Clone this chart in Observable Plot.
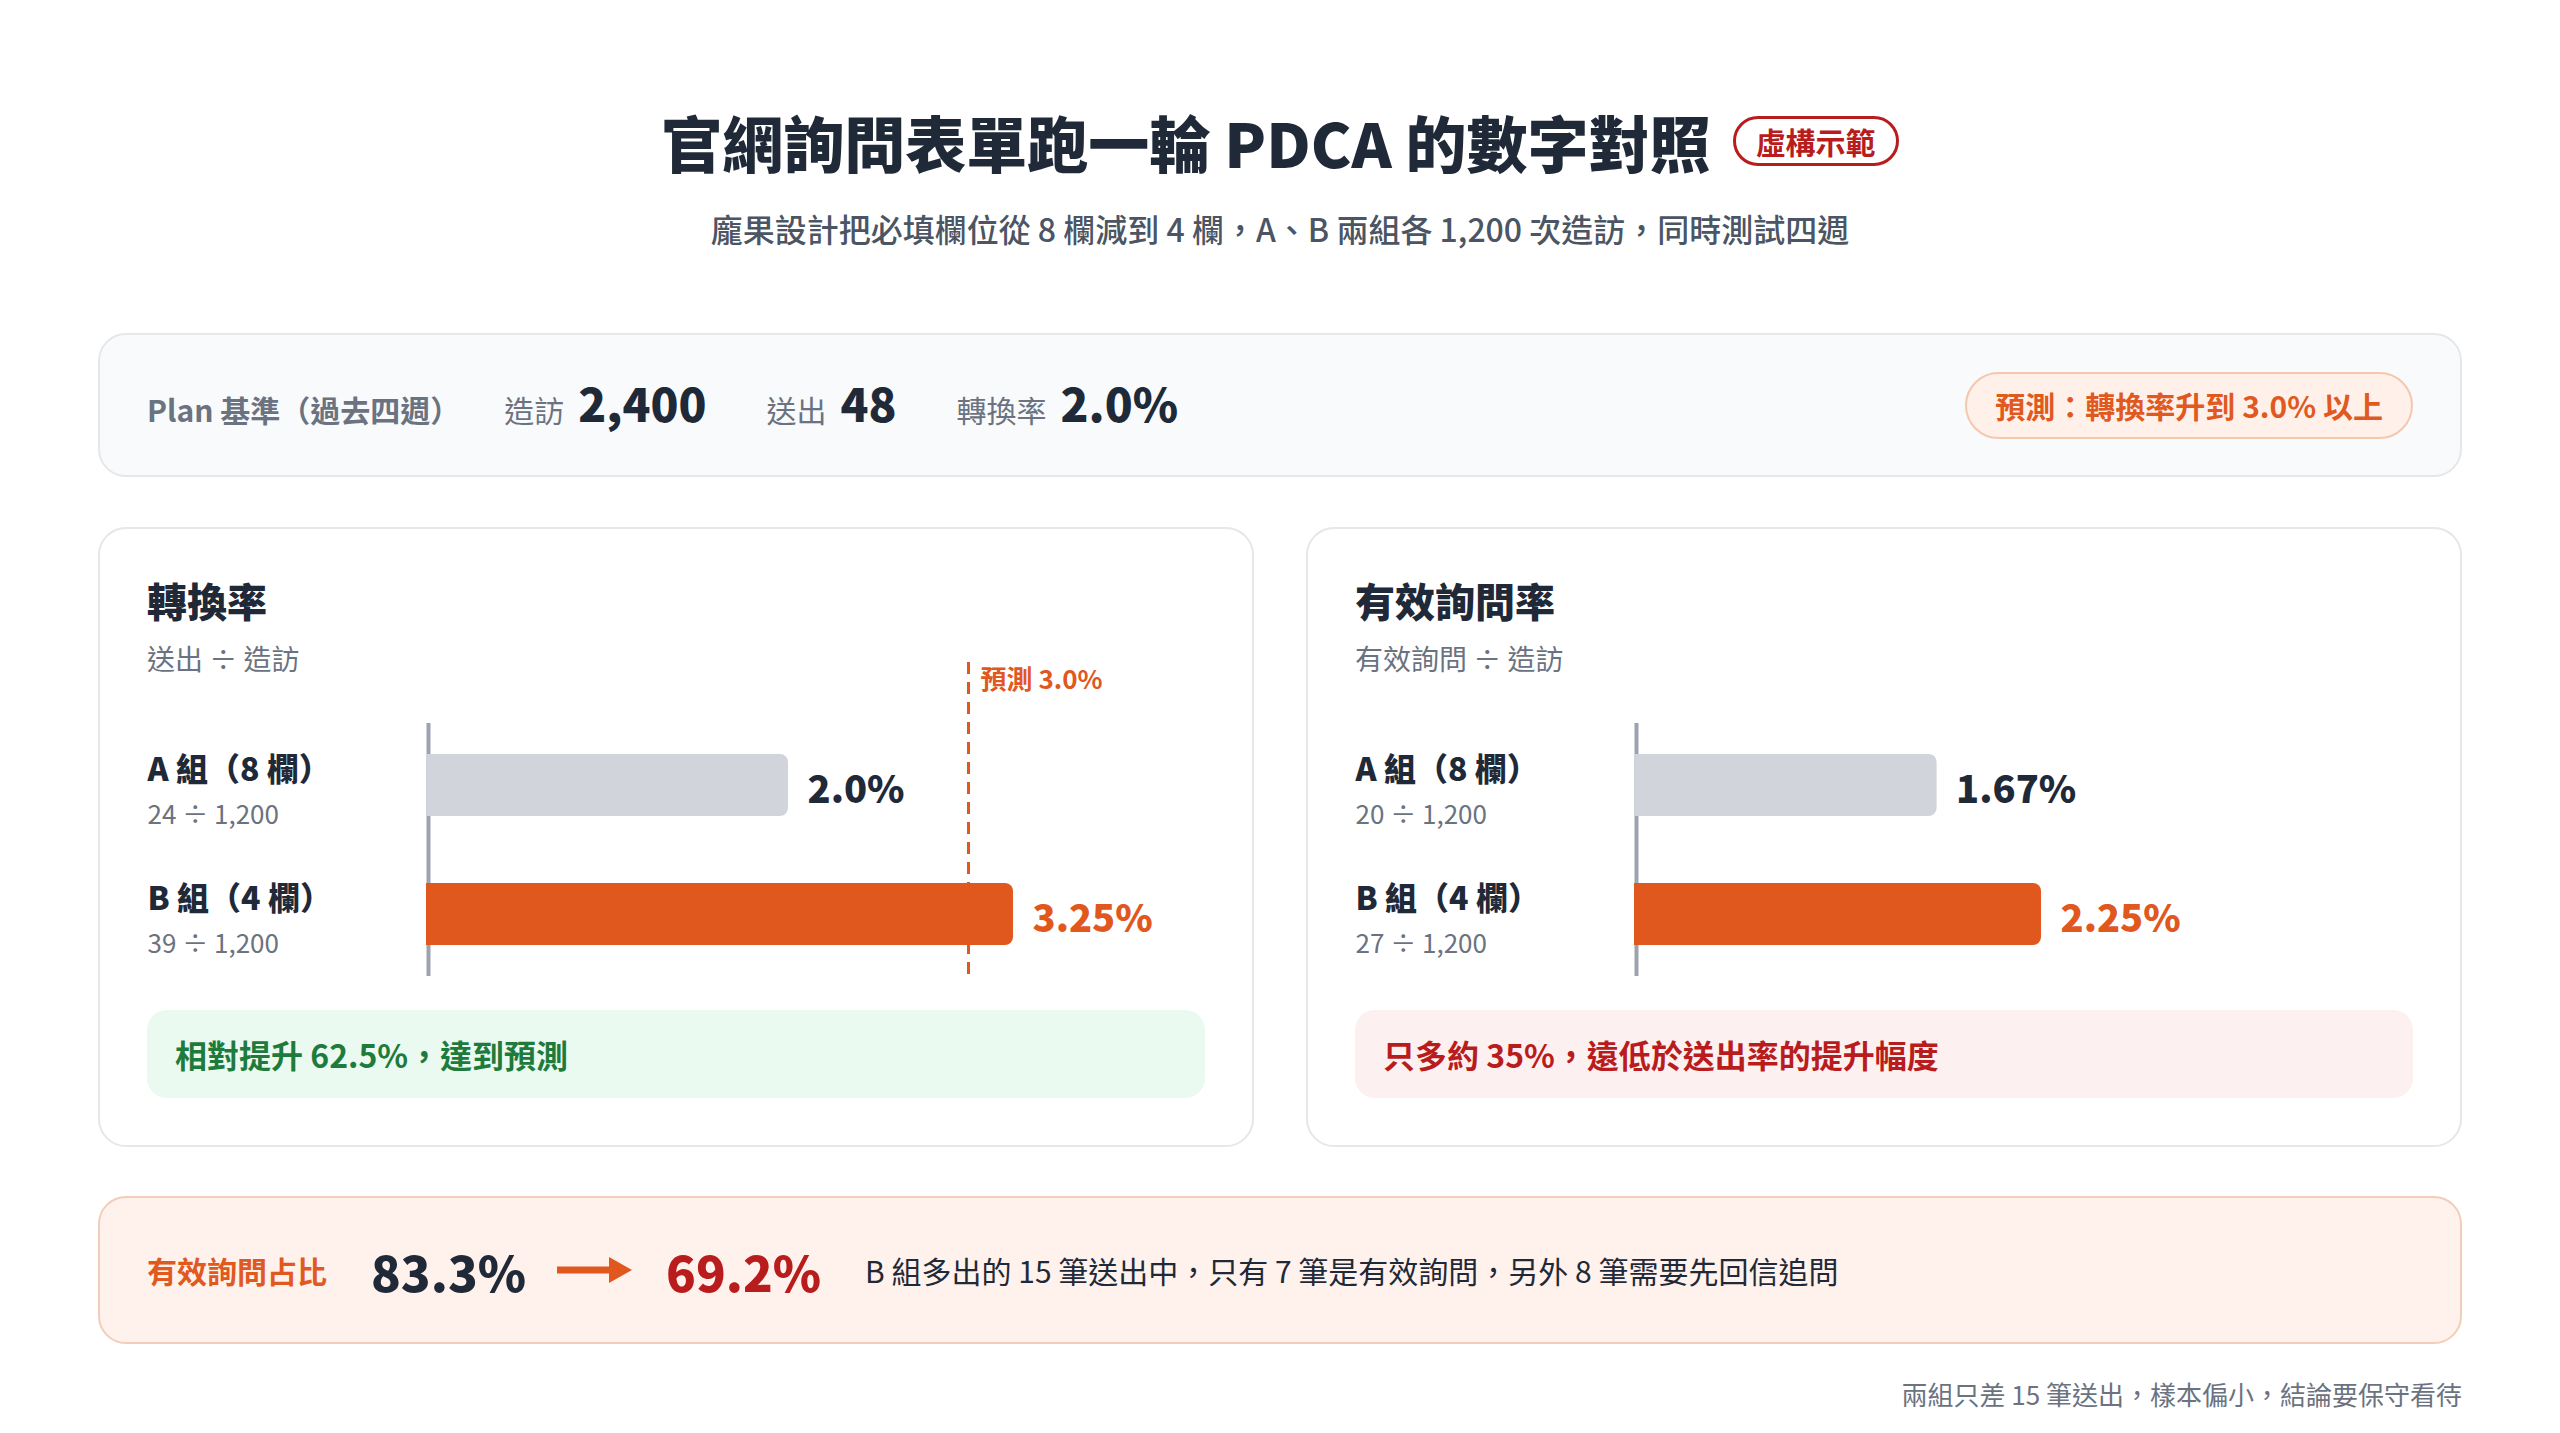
<!DOCTYPE html>
<html lang="zh-Hant">
<head>
<meta charset="utf-8">
<script src="https://cdn.jsdelivr.net/npm/d3@7"></script>
<script src="https://cdn.jsdelivr.net/npm/@observablehq/plot@0.6"></script>
<style>
  * { box-sizing: border-box; }
  body { margin: 0; width: 2560px; height: 1433px; background: #ffffff; position: relative; overflow: hidden;
         font-family: "Noto Sans CJK TC", "Noto Sans", sans-serif; color: #1f2937; }
  .abs { position: absolute; }
  #titleRow { left: 0; width: 2560px; top: 101px; height: 80px; display: flex; justify-content: center; align-items: center; }
  #title { font-size: 61px; font-weight: 900; line-height: 1; color: #1f2937; }
  #badge { margin-left: 22px; height: 50px; padding: 0 20px; border: 3px solid #b91c1c; border-radius: 25px;
           color: #b91c1c; font-size: 30px; font-weight: 700; display: flex; align-items: center; background: #fff; line-height: 1; }
  #subtitle { left: 0; width: 2560px; top: 208px; text-align: center; font-size: 32px; font-weight: 500; color: #4b5563; line-height: 40px; }
  #plan { left: 98px; top: 333px; width: 2364px; height: 144px; background: #f8fafc; border: 2px solid #e5e7eb; border-radius: 28px;
          display: flex; align-items: center; justify-content: space-between; padding: 0 47px; }
  #planLeft { display: flex; align-items: baseline; }
  .planTag { font-size: 30px; font-weight: 600; color: #6b7280; margin-right: 44px; }
  .kpi { display: flex; align-items: baseline; margin-right: 60px; }
  .kpi .k { font-size: 30px; color: #6b7280; margin-right: 14px; }
  .kpi .v { font-size: 46px; font-weight: 900; color: #1f2937; line-height: 1; }
  #pill { height: 67px; padding: 0 28px; border: 2px solid #f4c7ae; background: #fff1ea; border-radius: 34px;
          display: flex; align-items: center; font-size: 30px; font-weight: 700; color: #e0591f; }
  .panel { top: 527px; width: 1156px; height: 620px; background: #fff; border: 2px solid #e5e7eb; border-radius: 28px; }
  .ptitle { left: 47px; top: 51px; font-size: 40px; font-weight: 900; line-height: 1; color: #1f2937; }
  .psub { left: 47px; top: 115px; font-size: 28px; line-height: 1; color: #6b7280; }
  .chart { left: 47px; top: 111px; }
  .callout { left: 47px; top: 481px; width: 1058px; height: 88px; border-radius: 20px; display: flex; align-items: center;
             padding-left: 28px; font-size: 32px; font-weight: 700; }
  #bottom { left: 98px; top: 1196px; width: 2364px; height: 148px; background: #fff1eb; border: 2px solid #f2cdb9; border-radius: 28px;
            display: flex; align-items: center; padding-left: 47px; }
  #bottom .lab { font-size: 30px; font-weight: 700; color: #e0591f; margin-right: 44px; }
  #bottom .big { font-size: 49px; font-weight: 900; line-height: 1; }
  #bottom .desc { font-size: 30px; color: #1f2937; margin-left: 44px; }
  #footer { right: 98px; top: 1378px; font-size: 26px; color: #6b7280; line-height: 32px; }
</style>
</head>
<body>
<div id="titleRow" class="abs"><div id="title"></div><div id="badge"></div></div>
<div id="subtitle" class="abs"></div>
<div id="plan" class="abs"><div id="planLeft"></div><div id="pill"></div></div>
<div id="panelL" class="abs panel" style="left:98px"></div>
<div id="panelR" class="abs panel" style="left:1306px"></div>
<div id="bottom" class="abs"></div>
<div id="footer" class="abs"></div>
<script>
// ---------- data ----------
const titleText = "官網詢問表單跑一輪 PDCA 的數字對照";
const badgeText = "虛構示範";
const subtitleText = "龐果設計把必填欄位從 8 欄減到 4 欄，A、B 兩組各 1,200 次造訪，同時測試四週";
const planTag = "Plan 基準（過去四週）";
const planKeys = ["造訪", "送出", "轉換率"];
const planValues = ["2,400", "48", "2.0%"];
const forecastText = "預測：轉換率升到 3.0% 以上";

const groups = ["A 組（8 欄）", "B 組（4 欄）"];
const visits = [1200, 1200];
const submits = [24, 39];
const validInq = [20, 27];
const convRates = [2.0, 3.25];
const convLabels = ["2.0%", "3.25%"];
const validRates = [1.67, 2.25];
const validLabels = ["1.67%", "2.25%"];
const forecast = 3.0;

const panelTitles = ["轉換率", "有效詢問率"];
const panelSubs = ["送出 ÷ 造訪", "有效詢問 ÷ 造訪"];
const calloutTexts = ["相對提升 62.5%，達到預測", "只多約 35%，遠低於送出率的提升幅度"];

const shareLabel = "有效詢問占比";
const shareValues = ["83.3%", "69.2%"];
const shareDesc = "B 組多出的 15 筆送出中，只有 7 筆是有效詢問，另外 8 筆需要先回信追問";
const footerText = "兩組只差 15 筆送出，樣本偏小，結論要保守看待";

// ---------- styles ----------
const ORANGE = "#e0581e", BAR_GRAY = "#d1d5db", DARK = "#1f2937", MUTED = "#6b7280", AXIS = "#9ca3af";

// ---------- header ----------
document.getElementById("title").textContent = titleText;
document.getElementById("badge").textContent = badgeText;
document.getElementById("subtitle").textContent = subtitleText;

const planLeft = document.getElementById("planLeft");
const tag = document.createElement("span"); tag.className = "planTag"; tag.textContent = planTag; planLeft.appendChild(tag);
planKeys.forEach((k, i) => {
  const g = document.createElement("span"); g.className = "kpi";
  g.innerHTML = `<span class="k">${k}</span><span class="v">${planValues[i]}</span>`;
  planLeft.appendChild(g);
});
document.getElementById("pill").textContent = forecastText;

// ---------- charts ----------
function rateChart(rates, labels, counts, withForecast) {
  const data = groups.map((g, i) => ({
    group: g, rate: rates[i], label: labels[i], idx: i,
    frac: `${counts[i]} ÷ ${visits[i].toLocaleString("en-US")}`
  }));
  const marks = [Plot.ruleX([0], {stroke: AXIS, strokeWidth: 4})];
  if (withForecast) {
    marks.push(
      Plot.ruleX([forecast], {stroke: ORANGE, strokeWidth: 3, strokeDasharray: "12,8", insetTop: -61}),
      Plot.text([forecast], {x: d => d, frameAnchor: "top", dy: -53, dx: 12, textAnchor: "start",
        text: d => `預測 ${d.toFixed(1)}%`, fill: ORANGE, fontSize: 26, fontWeight: 700})
    );
  }
  marks.push(
    Plot.barX(data, {y: "group", x1: 0, x2: "rate", fill: "group", insetLeft: -2, insetRight: 12}),
    Plot.barX(data, {y: "group", x1: 0, x2: "rate", fill: "group", rx: 8}),
    Plot.text(data, {filter: d => d.idx === 0, x: "rate", y: "group", text: "label", dx: 19, dy: 5,
      textAnchor: "start", fill: DARK, fontSize: 38, fontWeight: 900}),
    Plot.text(data, {filter: d => d.idx === 1, x: "rate", y: "group", text: "label", dx: 19, dy: 5,
      textAnchor: "start", fill: ORANGE, fontSize: 38, fontWeight: 900}),
    Plot.text(data, {x: 0, y: "group", text: "group", dx: -281, dy: -15, textAnchor: "start",
      fill: DARK, fontSize: 32, fontWeight: 900}),
    Plot.text(data, {x: 0, y: "group", text: "frac", dx: -281, dy: 30, textAnchor: "start",
      fill: MUTED, fontSize: 26})
  );
  return Plot.plot({
    width: 1058, height: 355,
    marginLeft: 281, marginRight: 57, marginTop: 83, marginBottom: 19,
    x: {domain: [0, 4], axis: null},
    y: {domain: groups, axis: null, paddingInner: 0.52, paddingOuter: 0.24},
    color: {domain: groups, range: [BAR_GRAY, ORANGE]},
    style: {background: "transparent", overflow: "visible", fontFamily: "'Noto Sans CJK TC', sans-serif"},
    marks
  });
}

function buildPanel(el, i, chart, calloutBg, calloutColor) {
  el.innerHTML = `<div class="abs ptitle">${panelTitles[i]}</div><div class="abs psub">${panelSubs[i]}</div>`;
  const c = document.createElement("div"); c.className = "abs chart"; c.appendChild(chart); el.appendChild(c);
  const co = document.createElement("div"); co.className = "abs callout";
  co.style.background = calloutBg; co.style.color = calloutColor; co.textContent = calloutTexts[i];
  el.appendChild(co);
}
buildPanel(document.getElementById("panelL"), 0, rateChart(convRates, convLabels, submits, true), "#ebfaf0", "#1e7b3c");
buildPanel(document.getElementById("panelR"), 1, rateChart(validRates, validLabels, validInq, false), "#fdf0f0", "#b91c1c");

// ---------- bottom strip ----------
const bottom = document.getElementById("bottom");
bottom.innerHTML =
  `<span class="lab">${shareLabel}</span>` +
  `<span class="big" style="color:${DARK}">${shareValues[0]}</span>` +
  `<svg width="75" height="26" viewBox="0 0 75 26" style="margin:0 34px 0 31px"><rect x="0" y="9.5" width="54" height="7" fill="${ORANGE}"/><path d="M52 0 L75 13 L52 26 Z" fill="${ORANGE}"/></svg>` +
  `<span class="big" style="color:#b91c1c">${shareValues[1]}</span>` +
  `<span class="desc">${shareDesc}</span>`;
document.getElementById("footer").textContent = footerText;
</script>
</body>
</html>
